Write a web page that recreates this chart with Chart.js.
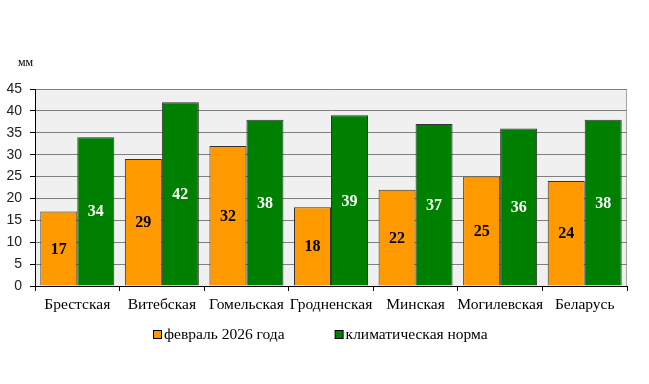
<!DOCTYPE html>
<html>
<head>
<meta charset="utf-8">
<script src="https://cdn.jsdelivr.net/npm/chart.js@4/dist/chart.umd.min.js"></script>
<style>
  html, body { margin: 0; padding: 0; background: #fff; }
  #wrap { width: 649px; height: 384px; }
</style>
</head>
<body>
<div id="wrap"><canvas id="precipChart"></canvas></div>
<script>
// Regions and precipitation values, mm
const regions = ['Брестская', 'Витебская', 'Гомельская', 'Гродненская', 'Минская', 'Могилевская', 'Беларусь'];
const february2026 = [17, 29, 32, 18, 22, 25, 24];
const climateNorm = [34, 42, 38, 39, 37, 36, 38];
const yTicks = [0, 5, 10, 15, 20, 25, 30, 35, 40, 45];

// Plot background, frame, unit label, bar values and the legend
const decorPlugin = {
    id: 'decor',
    beforeDraw(chart) {
        const { ctx, chartArea: a } = chart;
        ctx.save();
        ctx.fillStyle = '#f0f0f0';
        ctx.fillRect(a.left, a.top, a.right - a.left, a.bottom - a.top);
        ctx.strokeStyle = '#a6a6a6';
        ctx.lineWidth = 1;
        ctx.beginPath();
        ctx.moveTo(a.left, a.top + 0.5);
        ctx.lineTo(a.right - 0.5, a.top + 0.5);
        ctx.lineTo(a.right - 0.5, a.bottom);
        ctx.stroke();
        ctx.restore();
    },
    afterDatasetsDraw(chart) {
        const { ctx } = chart;
        ctx.save();
        ctx.font = 'bold 16px "Liberation Serif"';
        ctx.textAlign = 'center';
        ctx.textBaseline = 'middle';
        chart.data.datasets.forEach((ds, i) => {
            chart.getDatasetMeta(i).data.forEach((bar, j) => {
                ctx.fillStyle = i === 0 ? '#000' : '#fff';
                ctx.fillText(ds.data[j], bar.x, (bar.y + bar.base) / 2 + 1);
            });
        });
        ctx.restore();
    },
    afterDraw(chart) {
        const { ctx } = chart;
        ctx.save();
        ctx.fillStyle = '#000';
        ctx.font = '12px "Liberation Serif"';
        ctx.textAlign = 'left';
        ctx.textBaseline = 'middle';
        ctx.fillText('мм', 18, 63);

        // legend
        ctx.font = '15.5px "Liberation Serif"';
        const box = 8, gapText = 3, gapItem = 50, y = 335;
        const items = chart.data.datasets.map(ds => ({
            text: ds.label, color: ds.backgroundColor, w: ctx.measureText(ds.label).width
        }));
        let total = items.reduce((s, it) => s + box + gapText + it.w, 0) + gapItem * (items.length - 1);
        let x = Math.round(320 - total / 2);
        items.forEach(it => {
            ctx.fillStyle = it.color;
            ctx.fillRect(x + 0.5, y - 5 + 0.5, box, box);
            ctx.strokeStyle = '#000';
            ctx.lineWidth = 1;
            ctx.strokeRect(x + 0.5, y - 5 + 0.5, box, box);
            ctx.fillStyle = '#000';
            ctx.fillText(it.text, x + box + gapText, y);
            x += box + gapText + it.w + gapItem;
        });
        ctx.restore();
    }
};

const ctx = document.getElementById('precipChart').getContext('2d');
new Chart(ctx, {
    type: 'bar',
    data: {
        labels: regions,
        datasets: [
            {
                label: 'февраль 2026 года',
                data: february2026,
                backgroundColor: '#ff9900',
                borderColor: '#333333',
                borderWidth: 1
            },
            {
                label: 'климатическая норма',
                data: climateNorm,
                backgroundColor: '#008000',
                borderColor: '#333333',
                borderWidth: 1
            }
        ]
    },
    options: {
        responsive: true,
        maintainAspectRatio: false,
        animation: false,
        datasets: {
            bar: {
                categoryPercentage: 0.875,
                barPercentage: 1
            }
        },
        layout: {
            padding: { top: 89, right: 22, left: 0, bottom: 68 }
        },
        plugins: {
            legend: { display: false },
            tooltip: { enabled: false }
        },
        scales: {
            x: {
                afterFit(axis) {
                    axis.height = 30;
                },
                grid: {
                    drawOnChartArea: false,
                    tickLength: 5,
                    color: '#000'
                },
                border: { color: '#000' },
                ticks: {
                    color: '#000',
                    padding: 5,
                    autoSkip: false,
                    font: { family: 'Liberation Serif', size: 15.5 },
                    maxRotation: 0
                }
            },
            y: {
                min: 0,
                max: 45,
                afterBuildTicks(axis) {
                    axis.ticks = yTicks.map(v => ({ value: v }));
                },
                afterFit(axis) {
                    axis.width = 35;
                },
                grid: {
                    color: '#808080',
                    tickLength: 5,
                    tickColor: '#000'
                },
                border: { color: '#000' },
                ticks: {
                    color: '#222',
                    padding: 8,
                    font: { family: 'Liberation Sans', size: 14 }
                }
            }
        }
    },
    plugins: [decorPlugin]
});
</script>
</body>
</html>
